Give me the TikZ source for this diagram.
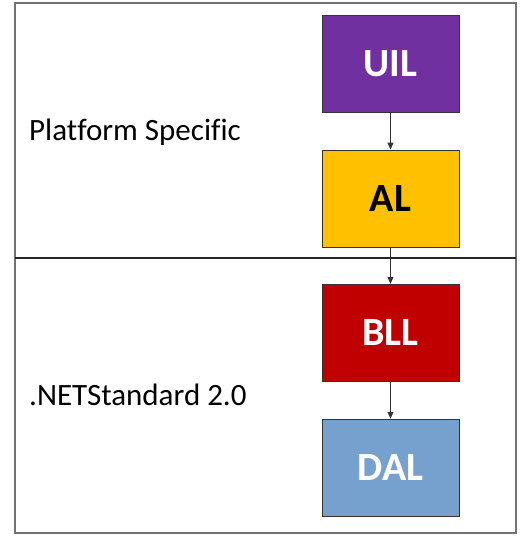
\documentclass[tikz,border=0pt]{standalone}
\usepackage{fontspec}
\setmainfont{Carlito}[Ligatures=NoCommon]
\usetikzlibrary{arrows.meta}
\definecolor{uilpurple}{RGB}{112,48,160}
\definecolor{algold}{RGB}{255,192,0}
\definecolor{bllred}{RGB}{192,0,0}
\definecolor{dalblue}{RGB}{118,161,206}
\begin{document}
\begin{tikzpicture}[>={Triangle[length=7pt,width=6pt]}, x=1pt, y=-1pt]
        \tikzset{
            layer/.style={rectangle,draw=black!80,line width=0.9pt,minimum width=137pt, minimum height=97pt, inner sep=0pt, font=\fontsize{40}{40}\selectfont\bfseries},
            zone/.style={anchor=base west, inner sep=0pt, font=\fontsize{31}{31}\selectfont}
        }
        \useasboundingbox (0,0) rectangle (526,541);

        % frame and divider
        \draw[black!55, line width=1.5pt] (15,3) rectangle (516,533);
        \draw[black!85, line width=1.8pt] (15,258) -- (516,258);

        \node[zone] (ps)  at (29,140) {Platform Specific};
        \node[zone] (net) at (29,405) {.NETStandard 2.0};

        \node[layer,fill=uilpurple,text=white] (UIL) at (390.5,63.5) {UIL};
        \node[layer,fill=algold,text=black]    (AL)  at (390.5,198.5) {AL};
        \node[layer,fill=bllred,text=white]    (BLL) at (390.5,332.8) {BLL};
        \node[layer,fill=dalblue,text=white]   (DAL) at (390.5,467.7) {DAL};

        \draw[->,black!80,line width=0.9pt] (UIL) -- (AL);
        \draw[->,black!80,line width=0.9pt] (AL) -- (BLL);
        \draw[->,black!80,line width=0.9pt] (BLL) -- (DAL);
\end{tikzpicture}
\end{document}
